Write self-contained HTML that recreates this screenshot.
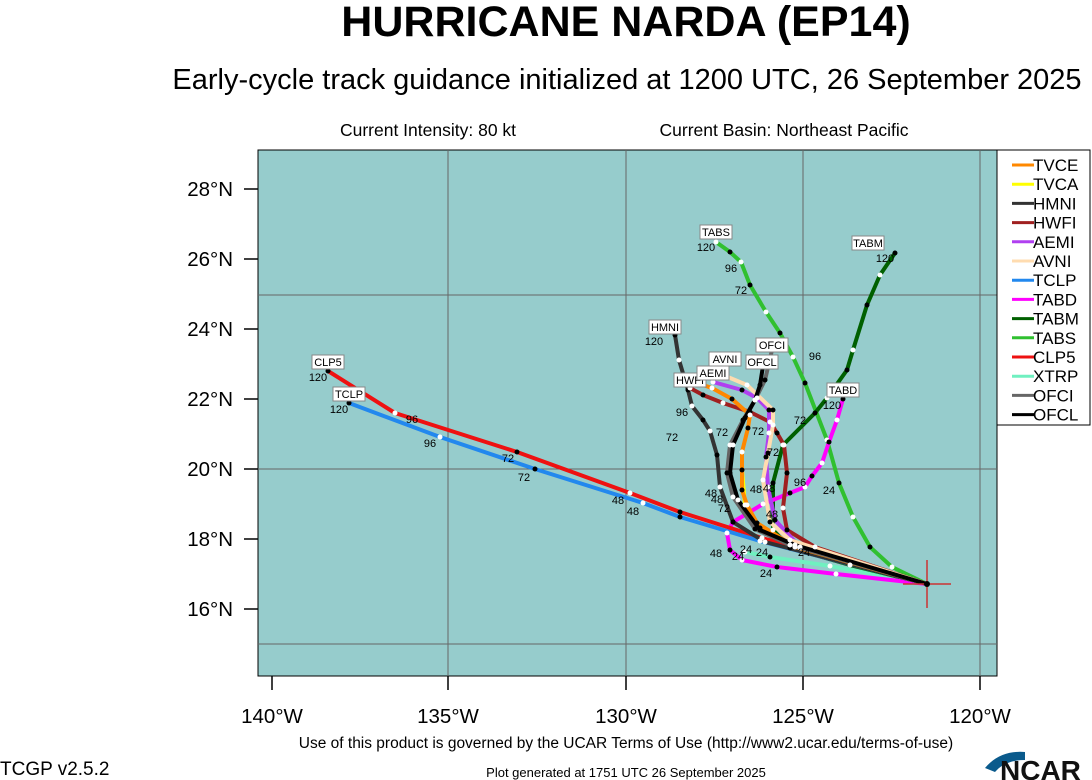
<!DOCTYPE html>
<html><head><meta charset="utf-8"><style>
body{margin:0;background:#fff;width:1092px;height:780px;overflow:hidden}
svg{display:block;font-family:"Liberation Sans",Arial,sans-serif}
</style></head><body>
<svg id="s" width="1092" height="780" viewBox="0 0 1092 780">
<text x="626" y="36" font-size="43" font-weight="bold" text-anchor="middle">HURRICANE NARDA (EP14)</text>
<text x="627" y="89" font-size="29" text-anchor="middle">Early-cycle track guidance initialized at 1200 UTC, 26 September 2025</text>
<text x="428" y="136" font-size="17.5" text-anchor="middle">Current Intensity: 80 kt</text>
<text x="784" y="136" font-size="17.5" text-anchor="middle">Current Basin: Northeast Pacific</text>
<rect x="258" y="150" width="739" height="526" fill="#96cccc" stroke="#000" stroke-width="1"/>
<g stroke="#666" stroke-width="1">
<line x1="448" y1="150" x2="448" y2="676"/><line x1="626" y1="150" x2="626" y2="676"/><line x1="803" y1="150" x2="803" y2="676"/><line x1="980" y1="150" x2="980" y2="676"/>
<line x1="258" y1="295" x2="997" y2="295"/><line x1="258" y1="469" x2="997" y2="469"/><line x1="258" y1="644" x2="997" y2="644"/>
</g>
<g stroke="#000" stroke-width="1.5">
<line x1="244" y1="189" x2="258" y2="189"/><line x1="244" y1="259" x2="258" y2="259"/><line x1="244" y1="329" x2="258" y2="329"/><line x1="244" y1="399" x2="258" y2="399"/><line x1="244" y1="469" x2="258" y2="469"/><line x1="244" y1="539" x2="258" y2="539"/><line x1="244" y1="609" x2="258" y2="609"/>
<line x1="272" y1="676" x2="272" y2="690"/><line x1="448" y1="676" x2="448" y2="690"/><line x1="626" y1="676" x2="626" y2="690"/><line x1="803" y1="676" x2="803" y2="690"/><line x1="980" y1="676" x2="980" y2="690"/>
</g>
<g font-size="20.5" text-anchor="end">
<text x="233" y="196">28°N</text><text x="233" y="266">26°N</text><text x="233" y="336">24°N</text><text x="233" y="406">22°N</text><text x="233" y="476">20°N</text><text x="233" y="546">18°N</text><text x="233" y="616">16°N</text>
</g>
<g font-size="20.5" text-anchor="middle">
<text x="272" y="723">140°W</text><text x="448" y="723">135°W</text><text x="626" y="723">130°W</text><text x="803" y="723">125°W</text><text x="980" y="723">120°W</text>
</g>
<g id="tr" fill="none" stroke-width="4" stroke-linejoin="round"></g>
<g id="dots"></g>
<g stroke="#c33" stroke-width="1.5"><line x1="927" y1="560" x2="927" y2="608"/><line x1="903" y1="584" x2="951" y2="584"/></g>
<circle cx="927" cy="584" r="3" fill="#000"/>
<g id="lb" font-size="11"></g>
<rect x="997" y="150" width="93" height="275" fill="#fff" stroke="#000"/>
<g id="lg" font-size="17"></g>
<text x="626" y="748" font-size="15.5" text-anchor="middle">Use of this product is governed by the UCAR Terms of Use (http://www2.ucar.edu/terms-of-use)</text>
<text x="0" y="775" font-size="19">TCGP v2.5.2</text>
<text x="626" y="777" font-size="13" text-anchor="middle">Plot generated at 1751 UTC   26 September 2025</text>
<path d="M985 768 Q1000 750 1025 752 L1025 760 Q1005 760 995 772 Z" fill="#0a5a8c"/>
<text x="1000" y="780" font-size="28" font-weight="bold" fill="#111">NCAR</text>
</svg>
<script>
const S=[927,584];
const T=[
["XTRP","#70f0c0",[S,[830,566],[770,557],[745,552]]],
["TVCA","#ffff00",[S,[800,548],[760,528],[745,505],[742,470]]],
["TABS","#30c030",[S,[892,567],[870,547],[853,517],[839,483],[827,440],[805,383],[793,357],[780,333],[766,312],[750,285],[741,262],[730,252],[716,242]]],
["TABM","#006000",[S,[850,565],[790,548],[773,530],[773,483],[783,445],[815,413],[827,398],[847,370],[853,350],[867,305],[880,275],[895,253]]],
["TABD","#ff00ff",[S,[836,574],[777,567],[742,560],[730,550],[727,533],[733,522],[763,504],[790,493],[805,487],[812,476],[822,463],[829,442],[837,420],[843,399]]],
["CLP5","#ee1111",[S,[762,538],[680,512],[630,493],[517,452],[395,413],[328,371]]],
["TCLP","#2288ee",[S,[760,541],[680,517],[643,503],[535,469],[440,437],[349,403]]],
["HMNI","#333333",[S,[765,542],[733,522],[720,487],[717,455],[710,431],[703,420],[692,406],[688,390],[679,360],[675,335]]],
["HWFI","#a02020",[S,[815,547],[787,530],[783,508],[787,473],[784,445],[777,433],[770,422],[750,412],[723,403],[703,395],[690,388]]],
["TVCE","#ff8800",[S,[795,547],[757,523],[747,505],[742,490],[742,452],[748,428],[750,415],[732,399],[712,388],[700,384]]],
["AEMI","#b040f0",[S,[800,547],[775,520],[768,487],[766,457],[769,433],[769,410],[757,398],[742,390],[713,382]]],
["AVNI","#ffdcb0",[S,[790,540],[770,522],[763,480],[768,453],[773,425],[773,410],[747,385],[723,375]]],
["OFCI","#666666",[S,[790,545],[755,529],[733,497],[727,473],[730,445],[743,420],[755,400],[765,380],[772,350]]],
["OFCL","#000000",[S,[795,545],[760,530],[738,500],[730,473],[733,445],[745,418],[755,400],[760,385],[763,366]]]
];
const ns="http://www.w3.org/2000/svg";
function el(p,n,a,t){const e=document.createElementNS(ns,n);for(const k in a)e.setAttribute(k,a[k]);if(t)e.textContent=t;p.appendChild(e);return e;}
const tr=document.getElementById("tr"),dt=document.getElementById("dots");
T.forEach(([n,c,p])=>{el(tr,"polyline",{points:p.map(q=>q.join(",")).join(" "),stroke:c});
p.slice(1).forEach((q,i)=>el(dt,"circle",{cx:q[0],cy:q[1],r:2.5,fill:i%2?"#000":"#fff"}));});
const lb=document.getElementById("lb");
[["TABS",716,232],["TABM",868,243],["HMNI",665,327],["CLP5",328,362],["TCLP",349,394],["AVNI",725,359],["OFCI",772,345],["OFCL",762,362],["TABD",843,390],["HWFI",690,380],["AEMI",713,373]].forEach(([t,x,y])=>{
el(lb,"rect",{x:x-16,y:y-7,width:32,height:14,fill:"#fff",stroke:"#888"});el(lb,"text",{x:x,y:y+4,"text-anchor":"middle"},t);});
[["120",706,251],["96",731,272],["72",741,294],["120",885,262],["96",815,360],["72",800,424],["24",829,494],["120",654,345],["120",318,381],["96",412,423],["72",508,462],["48",618,504],["120",339,413],["96",430,447],["72",524,481],["48",633,515],["96",682,416],["72",672,441],["120",832,409],["96",800,486],["24",766,577],["48",716,557],["24",738,560],["72",722,436],["72",758,435],["72",773,456],["48",711,497],["48",717,503],["48",756,493],["72",724,512],["48",772,518],["48",769,492],["24",746,553],["24",762,556],["24",804,556]].forEach(([t,x,y])=>el(lb,"text",{x:x,y:y,"text-anchor":"middle"},t));
const lg=document.getElementById("lg");
const ord=["TVCE","TVCA","HMNI","HWFI","AEMI","AVNI","TCLP","TABD","TABM","TABS","CLP5","XTRP","OFCI","OFCL"];
T.slice().sort((a,b)=>ord.indexOf(a[0])-ord.indexOf(b[0])).forEach(([n,c],i)=>{
const y=165+i*19.2;el(lg,"line",{x1:1012,y1:y,x2:1034,y2:y,stroke:c,"stroke-width":3});el(lg,"text",{x:1033,y:y+6},n);});
</script>
</body></html>
